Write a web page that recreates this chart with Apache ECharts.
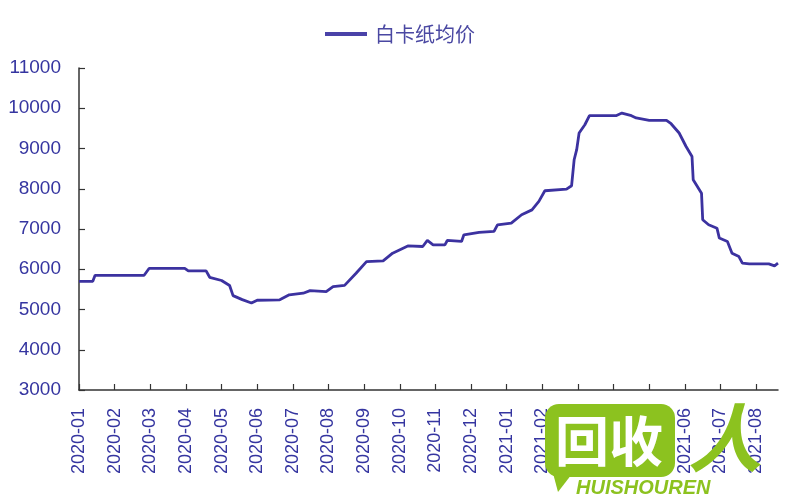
<!DOCTYPE html>
<html>
<head>
<meta charset="utf-8">
<script src="https://cdn.jsdelivr.net/npm/echarts@6/dist/echarts.min.js"></script>
<style>html,body{margin:0;padding:0;background:#fff}#c{width:800px;height:500px}</style>
</head>
<body>
<div id="c"></div>
<script>
const seriesName = '白卡纸均价';
const monthLabels = ['2020-01','2020-02','2020-03','2020-04','2020-05','2020-06','2020-07','2020-08','2020-09','2020-10','2020-11','2020-12','2021-01','2021-02','2021-03','2021-04','2021-05','2021-06','2021-07','2021-08'];
const dates = ['2020-01-01','2020-01-13','2020-01-15','2020-02-25','2020-02-29','2020-03-31','2020-04-03','2020-04-18','2020-04-21','2020-05-01','2020-05-08','2020-05-11','2020-05-19','2020-05-27','2020-06-01','2020-06-20','2020-06-28','2020-07-10','2020-07-16','2020-07-30','2020-08-05','2020-08-15','2020-08-25','2020-09-03','2020-09-17','2020-09-25','2020-10-08','2020-10-21','2020-10-25','2020-10-30','2020-11-09','2020-11-11','2020-11-23','2020-11-25','2020-12-08','2020-12-21','2020-12-24','2021-01-05','2021-01-14','2021-01-23','2021-01-29','2021-02-03','2021-02-20','2021-02-24','2021-02-26','2021-02-28','2021-03-02','2021-03-07','2021-03-11','2021-04-03','2021-04-08','2021-04-16','2021-04-20','2021-05-01','2021-05-16','2021-05-20','2021-05-27','2021-06-02','2021-06-07','2021-06-08','2021-06-15','2021-06-16','2021-06-21','2021-06-28','2021-06-30','2021-07-07','2021-07-11','2021-07-17','2021-07-20','2021-07-26','2021-08-12','2021-08-17','2021-08-20'];
const prices = [5700,5700,5850,5850,6020,6020,5960,5960,5800,5720,5595,5345,5245,5160,5230,5240,5365,5405,5470,5445,5570,5600,5900,6190,6210,6400,6580,6565,6715,6605,6605,6715,6690,6855,6915,6940,7105,7145,7355,7475,7685,7950,7990,8075,8720,8970,9385,9590,9815,9815,9880,9815,9760,9700,9700,9615,9385,9050,8800,8225,7890,7230,7105,7020,6775,6690,6400,6315,6150,6135,6135,6085,6150];

function monthPos(s) {
  const [y, m, d] = s.split('-').map(Number);
  const dim = new Date(y, m, 0).getDate();
  return (y - 2020) * 12 + (m - 1) + (d - 1) / dim;
}
const seriesData = dates.map((d, i) => [monthPos(d), prices[i]]);

const chart = echarts.init(document.getElementById('c'));
const labelColor = '#3535a0';
chart.setOption({
  animation: false,
  backgroundColor: '#fff',
  legend: {
    data: [{ name: seriesName, icon: 'rect' }],
    left: 320, top: 19,
    itemWidth: 42, itemHeight: 4,
    textStyle: { fontSize: 20, color: '#4a48a2', fontFamily: '"Noto Sans CJK SC"', padding: [0, 0, 0, 3] }
  },
  grid: { left: 79, right: 22, top: 68, bottom: 110, containLabel: false },
  xAxis: {
    type: 'value',
    min: 0,
    max: function (v) { return v.max; },
    interval: 1,
    splitLine: { show: false },
    axisLine: { lineStyle: { color: '#333', width: 1.5 } },
    axisTick: { inside: true, length: 6, lineStyle: { color: '#333', width: 1.2 } },
    axisLabel: {
      rotate: 90, margin: 18, fontSize: 18, color: labelColor,
      fontFamily: '"Liberation Sans", Arial, sans-serif',
      showMaxLabel: false,
      formatter: function (v) { return Number.isInteger(v) && monthLabels[v] ? monthLabels[v] : ''; }
    }
  },
  yAxis: {
    type: 'value',
    min: 3000, max: 11000, interval: 1000,
    splitLine: { show: false },
    axisLine: { show: true, lineStyle: { color: '#333', width: 1.5 } },
    axisTick: { show: true, inside: true, length: 6, lineStyle: { color: '#333', width: 1.2 } },
    axisLabel: {
      margin: 18, fontSize: 19, color: labelColor, fontFamily: '"Liberation Sans", Arial, sans-serif',
      formatter: function (v) { return String(v); }
    }
  },
  series: [{
    name: seriesName,
    type: 'line',
    symbol: 'none',
    data: seriesData,
    lineStyle: { color: '#3c32a0', width: 2.8 },
    itemStyle: { color: '#4a42a8' }
  }],
  graphic: [
    { type: 'rect', z: 100, shape: { x: 545, y: 404, width: 130, height: 73, r: 14 }, style: { fill: '#8cc21f' } },
    { type: 'polygon', z: 100, shape: { points: [[550, 462], [575, 470], [558, 492]] }, style: { fill: '#8cc21f' } },
    { type: 'text', z: 101, x: 555, y: 441, style: { text: '回收', font: 'bold 54px "Noto Sans CJK SC"', fill: '#ffffff', verticalAlign: 'middle' } },
    { type: 'text', z: 101, x: 576, y: 488, style: { text: 'HUISHOUREN', font: 'italic bold 20px "Liberation Sans"', fill: '#8cc21f', verticalAlign: 'middle' } },
    { type: 'text', z: 101, x: 688, y: 438, style: { text: '人', font: 'italic bold 74px "Noto Sans CJK SC"', fill: '#8cc21f', verticalAlign: 'middle' } }
  ]
});
</script>
</body>
</html>
